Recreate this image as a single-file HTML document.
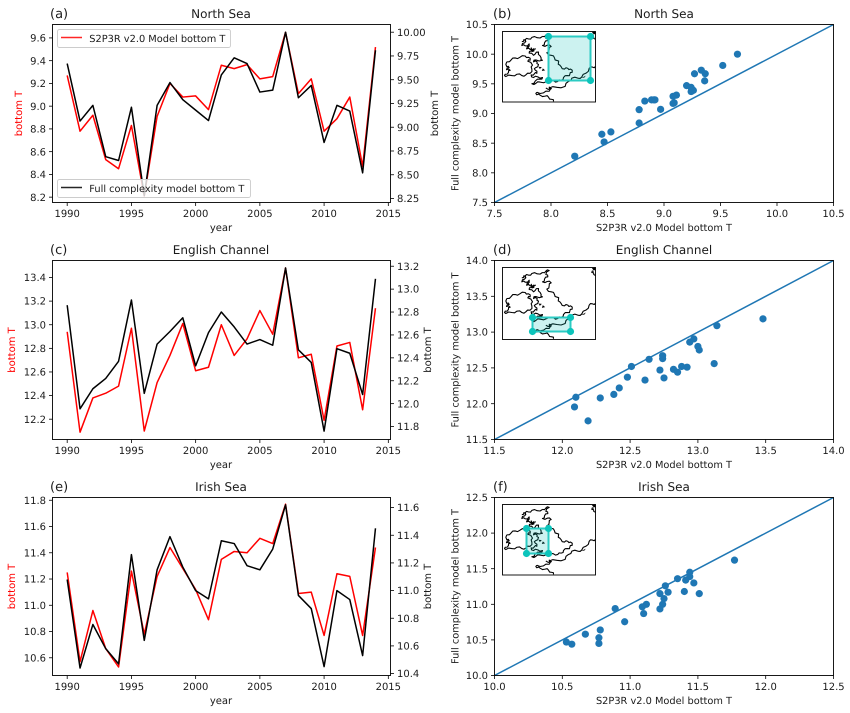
<!DOCTYPE html>
<html>
<head>
<meta charset="utf-8">
<title>Bottom temperature comparison</title>
<style>
html,body{margin:0;padding:0;background:#fff;width:850px;height:713px;overflow:hidden}
svg{display:block}
text{font-family:"DejaVu Sans","Liberation Sans",sans-serif;font-size:10px;fill:#1a1a1a;text-rendering:geometricPrecision}
</style>
</head>
<body>
<svg id="chart" xmlns="http://www.w3.org/2000/svg" width="850" height="713" viewBox="0 0 850 713"></svg>
<script>
// ---------- data ----------
const years = [1990,1991,1992,1993,1994,1995,1996,1997,1998,1999,2000,2001,2002,2003,2004,2005,2006,2007,2008,2009,2010,2011,2012,2013,2014];
const northSeaS2P3R = [9.27,8.78,8.92,8.53,8.45,8.83,8.21,8.91,9.20,9.08,9.09,8.97,9.36,9.33,9.365,9.24,9.26,9.65,9.11,9.24,8.78,8.89,9.08,8.47,9.52];
const northSeaFull = [9.67,9.065,9.23,8.69,8.65,9.21,8.28,9.23,9.47,9.29,9.18,9.07,9.55,9.73,9.67,9.37,9.39,10.0,9.31,9.44,8.84,9.23,9.17,8.52,9.81];
const channelS2P3R = [12.94,12.09,12.38,12.42,12.48,12.97,12.10,12.51,12.74,13.01,12.61,12.64,13.0,12.74,12.88,13.12,12.92,13.48,12.72,12.75,12.19,12.82,12.85,12.28,13.14];
const channelFull = [12.86,11.955,12.13,12.22,12.37,12.905,12.09,12.52,12.63,12.75,12.33,12.62,12.80,12.67,12.52,12.56,12.51,13.185,12.47,12.36,11.76,12.48,12.44,12.08,13.09];
const irishS2P3R = [11.25,10.57,10.96,10.67,10.53,11.26,10.78,11.22,11.44,11.28,11.12,10.89,11.35,11.41,11.40,11.51,11.47,11.77,11.09,11.10,10.77,11.24,11.22,10.77,11.44];
const irishFull = [11.08,10.44,10.755,10.58,10.47,11.26,10.64,11.15,11.39,11.17,11.0,10.94,11.36,11.34,11.18,11.15,11.30,11.62,10.965,10.87,10.45,11.0,10.935,10.53,11.45];

const yearTicks = ['1990','1995','2000','2005','2010','2015'];
const northLeftTicks = ['8.2','8.4','8.6','8.8','9.0','9.2','9.4','9.6'];
const northRightTicks = ['8.25','8.50','8.75','9.00','9.25','9.50','9.75','10.00'];
const channelLeftTicks = ['12.2','12.4','12.6','12.8','13.0','13.2','13.4'];
const channelRightTicks = ['11.8','12.0','12.2','12.4','12.6','12.8','13.0','13.2'];
const irishLeftTicks = ['10.6','10.8','11.0','11.2','11.4','11.6','11.8'];
const irishRightTicks = ['10.4','10.6','10.8','11.0','11.2','11.4','11.6'];
const northScatterTicks = ['7.5','8.0','8.5','9.0','9.5','10.0','10.5'];
const channelScatterTicks = ['11.5','12.0','12.5','13.0','13.5','14.0'];
const irishScatterTicks = ['10.0','10.5','11.0','11.5','12.0','12.5'];

// ---------- helpers ----------
const svg = document.getElementById('chart');
const NS = 'http://www.w3.org/2000/svg';
const INK = '#1a1a1a';
function mk(tag, props, parent) {
  const el = document.createElementNS(NS, tag);
  for (const k in props) el.setAttribute(k, props[k]);
  (parent || svg).appendChild(el);
  return el;
}
function linear(d0, d1, r0, r1) {
  return v => r0 + (v - d0) * (r1 - r0) / (d1 - d0);
}
function label(str, x, y, anchor, size, color, rot, name) {
  const t = mk('text', {x: x, y: y, 'text-anchor': anchor});
  t.style.fontSize = size + 'px';
  t.style.fill = color;
  if (rot) t.setAttribute('transform', 'rotate(' + rot + ' ' + x + ' ' + y + ')');
  t.textContent = str;
  
  
  return t;
}
function tickLine(x1, y1, x2, y2) {
  const l = mk('line', {x1: x1, y1: y1, x2: x2, y2: y2, stroke: '#000', 'stroke-width': 0.8});
  
  
}
function frame(L, T, R, B) {
  const r = mk('rect', {x: L, y: T, width: R - L, height: B - T, fill: 'none', stroke: '#000', 'stroke-width': 0.9});
  
  
}
function xTicks(ticks, sx, B, fmtName) {
  ticks.forEach(t => {
    const x = sx(parseFloat(t));
    tickLine(x, B, x, B + 3.5);
    label(t, x, B + 14.5, 'middle', 10, INK, 0, fmtName);
  });
}
function yTicksLeft(ticks, sy, L, color) {
  ticks.forEach(t => {
    const y = sy(parseFloat(t));
    tickLine(L - 3.5, y, L, y);
    label(t, L - 6.5, y + 3.6, 'end', 10, color, 0, 'y-tick-label');
  });
}
function yTicksRight(ticks, sy, R) {
  ticks.forEach(t => {
    const y = sy(parseFloat(t));
    tickLine(R, y, R + 3.5, y);
    label(t, R + 6.5, y + 3.6, 'start', 10, INK, 0, 'right-y-tick-label');
  });
}
function seriesLine(xs, ys, sx, sy, color, name) {
  const pts = xs.map((x, i) => sx(x).toFixed(2) + ',' + sy(ys[i]).toFixed(2)).join(' ');
  const p = mk('polyline', {points: pts, fill: 'none', stroke: color, 'stroke-width': 1.5, 'stroke-linejoin': 'round'});
  
  
}
function legend(x, y, w, color, text, name) {
  const g = mk('g', {});
  
  
  mk('rect', {x: x, y: y, width: w, height: 18, rx: 2, fill: '#fff', 'fill-opacity': 0.8, stroke: '#ccc', 'stroke-width': 0.9}, g);
  mk('line', {x1: x + 3.5, y1: y + 8, x2: x + 24.5, y2: y + 8, stroke: color, 'stroke-width': 1.5, 'stroke-opacity': 0.85}, g);
  const t = mk('text', {x: x + 31.8, y: y + 12.4}, g);
  t.style.fontSize = '9.8px';
  t.textContent = text;
}

// ---------- line panels ----------
function linePanel(o) {
  const L = 52.5, R = 390.5;
  const sx = linear(1988.856, 2015.17, L, R);
  const syL = linear(o.leftDom[0], o.leftDom[1], o.B, o.T);
  const syR = linear(o.rightDom[0], o.rightDom[1], o.B, o.T);
  label(o.tag, 50, o.T - 6.5, 'start', 13, INK, 0, 'panel-label');
  label(o.title, 221, o.T - 6.5, 'middle', 12, INK, 0, 'panel-title');
  seriesLine(years, o.red, sx, syL, '#ff0000', 'series-s2p3r');
  if (o.legends) legend(57.5, o.T + 5, 173, '#ff0000', 'S2P3R v2.0 Model bottom T', 'legend-s2p3r');
  seriesLine(years, o.black, sx, syR, '#000000', 'series-full-complexity');
  if (o.legends) legend(57.5, o.B - 23, 193, '#000000', 'Full complexity model bottom T', 'legend-full-complexity');
  frame(L, o.T, R, o.B);
  xTicks(yearTicks, sx, o.B, 'x-tick-label');
  yTicksLeft(o.leftTicks, syL, L, INK);
  yTicksRight(o.rightTicks, syR, R);
  label('year', 221, o.B + 28.5, 'middle', 10, INK, 0, 'x-axis-title');
  label('bottom T', o.lx, (o.T + o.B) / 2, 'middle', 10, '#ff0000', -90, 'y-axis-title-left');
  label('bottom T', o.rx, (o.T + o.B) / 2, 'middle', 10, INK, -90, 'y-axis-title-right');
}
linePanel({tag:'(a)', title:'North Sea', T:24.5, B:202.5, leftDom:[8.153,9.718], rightDom:[8.208,10.081],
  red:northSeaS2P3R, black:northSeaFull, leftTicks:northLeftTicks, rightTicks:northRightTicks, lx:22, rx:438, legends:true});
linePanel({tag:'(c)', title:'English Channel', T:260.5, B:439.5, leftDom:[12.028,13.544], rightDom:[11.687,13.25],
  red:channelS2P3R, black:channelFull, leftTicks:channelLeftTicks, rightTicks:channelRightTicks, lx:15, rx:431, legends:false});
linePanel({tag:'(e)', title:'Irish Sea', T:497.5, B:675.5, leftDom:[10.465,11.821], rightDom:[10.386,11.673],
  red:irishS2P3R, black:irishFull, leftTicks:irishLeftTicks, rightTicks:irishRightTicks, lx:15, rx:431, legends:false});

// ---------- inset map ----------
const COAST = [
  [[352,112],[362,108],[372,106],[362,118],[368,125],[358,132],[352,140],[366,139],[378,143],[372,152],[365,162],[378,170],[388,178],[396,186],[400,192],[404,200],[408,205],[418,212],[428,210],[436,212],[441,222],[434,228],[428,232],[415,238],[408,246],[398,250],[385,248],[365,250],[345,252],[332,256],[320,257],[330,249],[345,243],[352,238],[338,236],[325,238],[318,230],[328,226],[335,225],[330,215],[331,208],[340,198],[336,190],[325,190],[332,184],[352,185],[348,178],[345,172],[340,160],[330,166],[325,170],[312,163],[318,157],[325,150],[315,152],[305,150],[312,142],[312,135],[300,141],[290,140],[298,132],[300,122],[310,120],[320,115],[336,116],[352,112]],
  [[245,190],[258,184],[270,178],[284,176],[300,172],[310,176],[315,185],[308,188],[322,200],[320,212],[315,225],[302,230],[290,232],[275,228],[260,232],[242,235],[240,228],[250,222],[255,216],[244,214],[252,208],[245,205],[245,190]],
  [[335,283],[355,285],[372,280],[372,270],[395,268],[420,265],[430,250],[440,240],[458,240],[470,236],[482,225],[492,210],[502,206],[511,204]],
  [[335,283],[335,291],[345,292],[360,295],[370,298],[380,305],[385,311]],
  [[506,108],[500,112],[506,118],[511,121]],
  [[290,128],[296,122],[300,128]],
  [[303,150],[310,143]],
  [[318,146],[326,156],[332,150]],
  [[362,270],[378,273]],
  [[372,266],[380,272]]
];
const BLOBS = ['M468,240 L482,232 L478,238 Z','M500,98 L511,97 L511,106 L504,104 Z','M315,148 L328,158 L320,160 Z','M353,210 L360,216 L350,218 Z','M340,205 L350,206 L344,212 Z'];
// jagged coastline: each segment gets an alternating perpendicular kink at its midpoint
function jagged(points) {
  let d = 'M' + points[0].join(',');
  for (let i = 1; i < points.length; i++) {
    const a = points[i - 1], b = points[i];
    const dx = b[0] - a[0], dy = b[1] - a[1], len = Math.hypot(dx, dy) || 1;
    const k = len > 7 ? (i % 2 ? 3 : -3) : 0;
    d += ' L' + ((a[0] + b[0]) / 2 - dy / len * k).toFixed(1) + ',' + ((a[1] + b[1]) / 2 + dx / len * k).toFixed(1);
    d += ' L' + b.join(',');
  }
  return d;
}
function insetMap(x, y, h, box, name) {
  const g = mk('g', {});
  
  
  mk('rect', {x: x, y: y, width: 93, height: h, fill: '#fff', stroke: 'none'}, g);
  const cid = name + '-clip';
  const defs = mk('defs', {}, g);
  const cp = mk('clipPath', {id: cid}, defs);
  mk('rect', {x: x, y: y, width: 93, height: h}, cp);
  const m = mk('g', {'clip-path': 'url(#' + cid + ')'}, g);
  const t = mk('g', {transform: 'translate(' + x + ' ' + y + ') scale(0.3333 ' + (h / 216).toFixed(4) + ') translate(-232 -97)'}, m);
  COAST.forEach(c => mk('path', {d: jagged(c), fill: 'none', stroke: '#000', 'stroke-width': 3.3, 'stroke-linejoin': 'round'}, t));
  BLOBS.forEach(d => mk('path', {d: d, fill: '#000'}, t));
  // region box
  const rx0 = box[0], rx1 = box[1], ry0 = box[2], ry1 = box[3];
  const region = mk('rect', {x: rx0, y: ry0, width: rx1 - rx0, height: ry1 - ry0, fill: '#00bfb5', 'fill-opacity': 0.2, stroke: '#2ccbc3', 'stroke-width': 2}, g);
  
  
  [[rx0, ry0], [rx1, ry0], [rx0, ry1], [rx1, ry1]].forEach(c => {
    const dot = mk('circle', {cx: c[0], cy: c[1], r: 3.6, fill: '#0cc4bb'}, g);
    
    
  });
  mk('rect', {x: x, y: y, width: 93, height: h, fill: 'none', stroke: '#000', 'stroke-width': 0.9}, g);
}

// ---------- scatter panels ----------
function scatterPanel(o) {
  const L = 494.5, R = 833.5;
  const sx = linear(o.dom[0], o.dom[1], L, R);
  const sy = linear(o.dom[0], o.dom[1], o.B, o.T);
  label(o.tag, 493, o.T - 6.5, 'start', 13, INK, 0, 'panel-label');
  label(o.title, 664, o.T - 6.5, 'middle', 12, INK, 0, 'panel-title');
  const d = mk('line', {x1: sx(o.dom[0]), y1: sy(o.dom[0]), x2: sx(o.dom[1]), y2: sy(o.dom[1]), stroke: '#1f77b4', 'stroke-width': 1.5});
  
  
  o.xs.forEach((v, i) => {
    const c = mk('circle', {cx: sx(v), cy: sy(o.ys[i]), r: 3.6, fill: '#1f77b4'});
    
    
  });
  insetMap(o.inset[0], o.inset[1], o.inset[2], o.box, o.mapName);
  frame(L, o.T, R, o.B);
  xTicks(o.ticks, sx, o.B, 'x-tick-label');
  yTicksLeft(o.ticks, sy, L, INK);
  label('S2P3R v2.0 Model bottom T', 664, o.B + 28.5, 'middle', 9.8, INK, 0, 'x-axis-title');
  label('Full complexity model bottom T', 458.5, (o.T + o.B) / 2, 'middle', 9.8, INK, -90, 'y-axis-title');
}
scatterPanel({tag:'(b)', title:'North Sea', T:24.5, B:202.5, dom:[7.5,10.5], xs:northSeaS2P3R, ys:northSeaFull,
  ticks:northScatterTicks, inset:[502.5,31.5,70.5], box:[548.5,590.5,36.5,80.5], mapName:'inset-map-north-sea'});
scatterPanel({tag:'(d)', title:'English Channel', T:260.5, B:439.5, dom:[11.5,14], xs:channelS2P3R, ys:channelFull,
  ticks:channelScatterTicks, inset:[502.5,267.5,72], box:[532.5,570.5,317.5,331.5], mapName:'inset-map-english-channel'});
scatterPanel({tag:'(f)', title:'Irish Sea', T:497.5, B:675.5, dom:[10,12.5], xs:irishS2P3R, ys:irishFull,
  ticks:irishScatterTicks, inset:[502.5,504.5,70.5], box:[526.5,548.5,528.5,553.5], mapName:'inset-map-irish-sea'});
</script>
</body>
</html>
